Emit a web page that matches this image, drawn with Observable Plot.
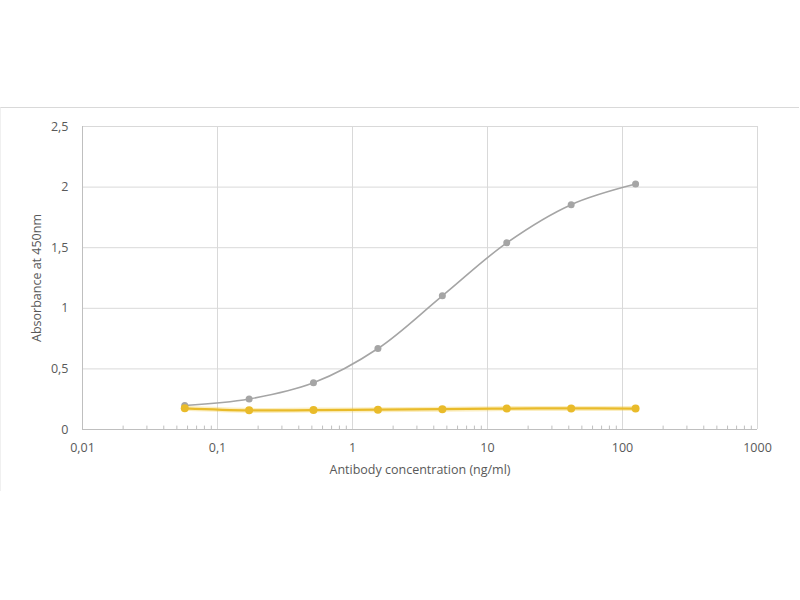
<!DOCTYPE html>
<html>
<head>
<meta charset="utf-8">
<script src="https://cdn.jsdelivr.net/npm/d3@7"></script>
<script src="https://cdn.jsdelivr.net/npm/@observablehq/plot@0.6"></script>
<style>
  body { margin: 0; background: #fff; }
  #wrap { position: relative; width: 800px; height: 600px; }
  #frame { position: absolute; left: 0; top: 107px; width: 798px; height: 383px;
           border-top: 1px solid #d9d9d9; border-left: 1px solid #f0f0f0; pointer-events: none; }
  svg { font-family: "Open Sans", sans-serif; }
</style>
</head>
<body>
<div id="wrap"><div id="frame"></div></div>
<script>
const concentrations = [0.0572, 0.1715, 0.514, 1.543, 4.63, 13.89, 41.67, 125];
const sampleValues = [0.198, 0.252, 0.385, 0.668, 1.103, 1.540, 1.855, 2.025];
const controlValues = [0.175, 0.158, 0.160, 0.163, 0.168, 0.173, 0.174, 0.173];
const xTicks = [0.01, 0.1, 1, 10, 100, 1000];
const yTicks = [0, 0.5, 1, 1.5, 2, 2.5];
const minorTicks = [];
for (const dec of [0.01, 0.1, 1, 10, 100]) for (let k = 2; k <= 9; k++) minorTicks.push(+(dec * k).toPrecision(3));

const sample = concentrations.map((c, i) => ({c, v: sampleValues[i]}));
const control = concentrations.map((c, i) => ({c, v: controlValues[i]}));
const fmt = d => String(d).replace(".", ",");

const chart = Plot.plot({
  width: 800, height: 600,
  marginLeft: 82, marginRight: 43, marginTop: 126, marginBottom: 171,
  style: {fontFamily: "'Open Sans', sans-serif", fontSize: "13px", color: "#595959", background: "transparent"},
  x: {type: "log", domain: [0.01, 1000]},
  y: {domain: [0, 2.5]},
  marks: [
    Plot.gridX(xTicks, {stroke: "#d9d9d9", strokeOpacity: 1}),
    Plot.gridY(yTicks, {stroke: "#d9d9d9", strokeOpacity: 1}),
    Plot.ruleX([0.01], {stroke: "#bfbfbf"}),
    Plot.ruleY([0], {stroke: "#bfbfbf"}),
    Plot.ruleX(minorTicks, {x: d => d, y1: 0, y2: 0.028, stroke: "#bfbfbf"}),
    Plot.axisX(xTicks, {tickSize: 0, tickPadding: 14, tickFormat: fmt, fill: "#595959", fontSize: 12.5,
      label: "Antibody concentration (ng/ml)", labelAnchor: "center", labelArrow: "none", labelOffset: 44}),
    Plot.axisY(yTicks, {tickSize: 0, tickPadding: 14, tickFormat: fmt, fill: "#595959", fontSize: 12.5,
      label: "Absorbance at 450nm", labelAnchor: "center", labelArrow: "none", labelOffset: 50}),
    Plot.line(sample, {x: "c", y: "v", stroke: "#a5a5a5", strokeWidth: 1.6, curve: "catmull-rom"}),
    Plot.dot(sample, {x: "c", y: "v", fill: "#a5a5a5", r: 3.5}),
    Plot.line(control, {x: "c", y: "v", stroke: "#f3c633", strokeWidth: 5, strokeOpacity: 0.3, curve: "catmull-rom"}),
    Plot.line(control, {x: "c", y: "v", stroke: "#e9bb2a", strokeWidth: 2.25, curve: "catmull-rom"}),
    Plot.dot(control, {x: "c", y: "v", fill: "#e9bb2a", r: 4})
  ]
});
document.getElementById("wrap").prepend(chart);
</script>
</body>
</html>
